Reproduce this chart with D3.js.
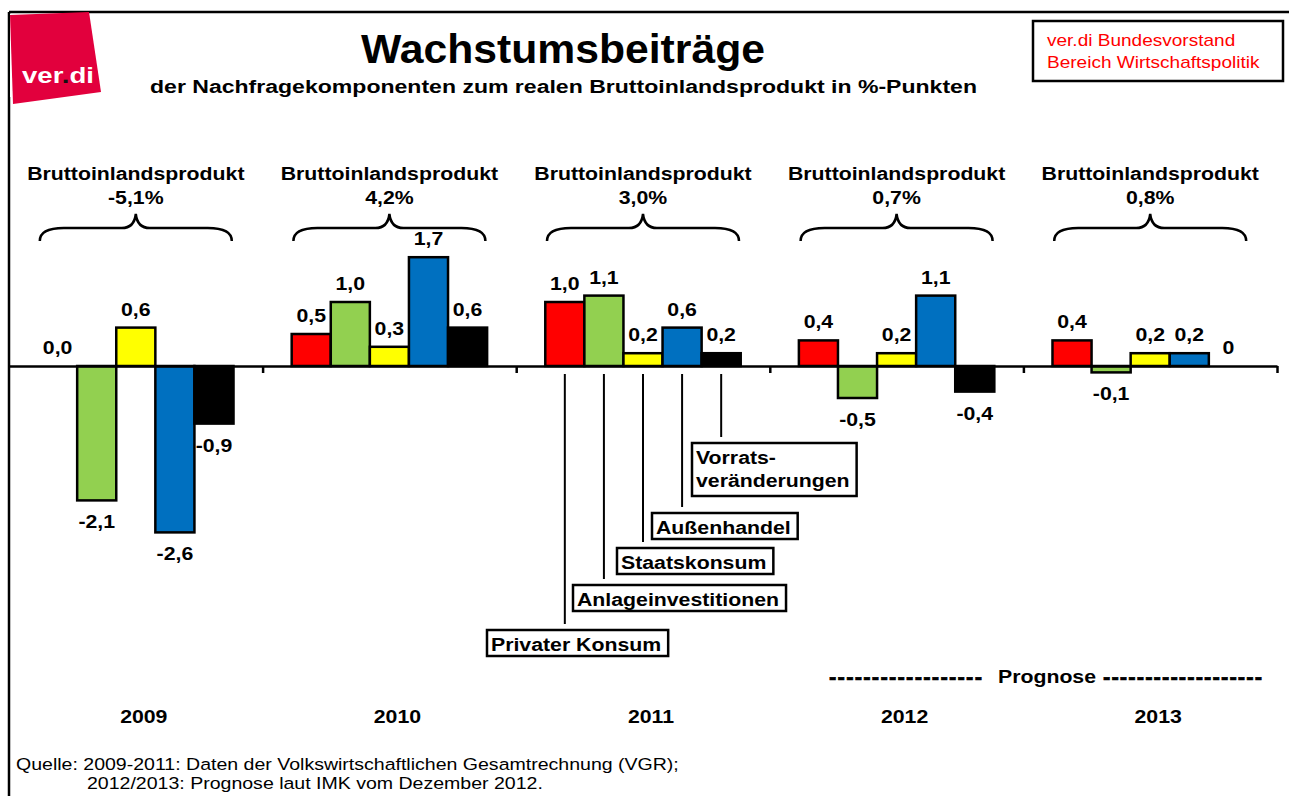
<!DOCTYPE html>
<html lang="de">
<head>
<meta charset="utf-8">
<title>Wachstumsbeiträge</title>
<script src="https://cdn.jsdelivr.net/npm/d3@7"></script>
<style>
  body { margin: 0; background: #fff; }
  svg { display: block; font-family: Arial, "Liberation Sans", sans-serif; }
</style>
</head>
<body>
<div id="chart"></div>
<script>
// categories
const years = ['2009', '2010', '2011', '2012', '2013'];
const components = ['Privater Konsum', 'Anlageinvestitionen', 'Staatskonsum', 'Außenhandel', 'Vorratsveränderungen'];

// growth contributions in %-points, as printed next to each bar
const privaterKonsum = ['0,0', '0,5', '1,0', '0,4', '0,4'];
const anlageinvestitionen = ['-2,1', '1,0', '1,1', '-0,5', '-0,1'];
const staatskonsum = ['0,6', '0,3', '0,2', '0,2', '0,2'];
const aussenhandel = ['-2,6', '1,7', '0,6', '1,1', '0,2'];
const vorratsveraenderungen = ['-0,9', '0,6', '0,2', '-0,4', '0'];

// real GDP growth per year
const bipGrowth = ['-5,1%', '4,2%', '3,0%', '0,7%', '0,8%'];

// callout texts (one line per entry)
const calloutText = [['Privater Konsum'], ['Anlageinvestitionen'], ['Staatskonsum'], ['Außenhandel'], ['Vorrats-', 'veränderungen']];
const calloutYear = '2011';

const sourceLines = [
  'Quelle: 2009-2011: Daten der Volkswirtschaftlichen Gesamtrechnung (VGR);',
  '2012/2013: Prognose laut IMK vom Dezember 2012.'
];

class GrowthChart {

  constructor(_config) {
    this.config = {
      parentElement: _config.parentElement,
      containerWidth: 1289,
      containerHeight: 796,
      plotLeft: 9,
      plotRight: 1277,
      zeroY: 366,
      pxPerPoint: 64,
      stretch: 1.12,
      barColors: ['#ff0000', '#92d050', '#ffff00', '#0070c0', '#000000'],
      // callout box corners (left, top) in pixels
      calloutBoxes: [[487, 630], [573, 585], [617, 548], [652, 513], [692, 443]]
    };
    this.initVis();
  }

  initVis() {
    let vis = this;
    const c = vis.config;

    vis.svg = d3.select(c.parentElement).append('svg')
        .attr('width', c.containerWidth)
        .attr('height', c.containerHeight);

    // scales
    vis.x0 = d3.scaleBand()
        .domain(years)
        .range([c.plotLeft, c.plotRight]);

    vis.x1 = d3.scaleBand()
        .domain(components)
        .range([0, vis.x0.bandwidth()])
        .paddingInner(0)
        .paddingOuter(0.744);

    vis.y = d3.scaleLinear()
        .domain([-3, 2.5])
        .range([c.zeroY + 3 * c.pxPerPoint, c.zeroY - 2.5 * c.pxPerPoint]);

    vis.color = d3.scaleOrdinal()
        .domain(components)
        .range(c.barColors);

    // tick positions sit at the boundaries between the years
    vis.xEdge = d3.scaleLinear()
        .domain([0, years.length])
        .range([c.plotLeft, c.plotRight]);

    vis.place = (x, y, s = c.stretch) => `translate(${x},${y}) scale(${s},1)`;

    const series = [privaterKonsum, anlageinvestitionen, staatskonsum, aussenhandel, vorratsveraenderungen];
    vis.data = years.map((year, i) => ({
      year: year,
      bip: bipGrowth[i],
      bars: series.map((s, j) => ({
        year: year,
        component: components[j],
        label: s[i],
        value: +s[i].replace(',', '.')
      }))
    }));

    vis.renderVis();
  }

  renderVis() {
    let vis = this;
    const c = vis.config;
    const bw = vis.x0.bandwidth();

    // frame
    vis.svg.append('line')
        .attr('x1', c.plotLeft).attr('x2', c.containerWidth)
        .attr('y1', 12).attr('y2', 12)
        .attr('stroke', '#000').attr('stroke-width', 2.5);
    vis.svg.append('line')
        .attr('x1', c.plotLeft).attr('x2', c.plotLeft)
        .attr('y1', 12).attr('y2', c.containerHeight)
        .attr('stroke', '#000').attr('stroke-width', 2.5);

    // ver.di logo
    const logo = vis.svg.append('g');
    logo.append('rect')
        .attr('x', 10).attr('y', 14).attr('width', 94).attr('height', 83)
        .attr('fill', '#fff');
    logo.append('polygon')
        .attr('points', '10,15 89,12 101,92 13,104')
        .attr('fill', '#e2003d');
    const logoText = logo.append('text')
        .attr('x', 22).attr('y', 83)
        .attr('font-size', 22).attr('font-weight', 'bold')
        .attr('fill', '#fff')
        .attr('textLength', 72).attr('lengthAdjust', 'spacingAndGlyphs');
    logoText.append('tspan').text('ver');
    logoText.append('tspan').attr('fill', '#111').text('.');
    logoText.append('tspan').text('di');

    // title
    vis.svg.append('text')
        .attr('x', 361).attr('y', 63)
        .attr('font-size', 40).attr('font-weight', 'bold')
        .attr('textLength', 404).attr('lengthAdjust', 'spacingAndGlyphs')
        .text('Wachstumsbeiträge');
    vis.svg.append('text')
        .attr('x', 150).attr('y', 93)
        .attr('font-size', 18).attr('font-weight', 'bold')
        .attr('textLength', 827).attr('lengthAdjust', 'spacingAndGlyphs')
        .text('der Nachfragekomponenten zum realen Bruttoinlandsprodukt in %-Punkten');

    // publisher box
    vis.svg.append('rect')
        .attr('x', 1033).attr('y', 21).attr('width', 250).attr('height', 60)
        .attr('fill', '#fff').attr('stroke', '#000').attr('stroke-width', 2.5);
    vis.svg.selectAll('.publisher')
      .data(['ver.di Bundesvorstand', 'Bereich Wirtschaftspolitik'])
      .join('text')
        .attr('class', 'publisher')
        .attr('transform', (d, i) => vis.place(1047, 46 + i * 22))
        .attr('font-size', 17)
        .attr('fill', '#ff0000')
        .text(d => d);

    // year groups
    const yearGroup = vis.svg.selectAll('.year-group')
      .data(vis.data)
      .join('g')
        .attr('class', 'year-group')
        .attr('transform', d => `translate(${vis.x0(d.year)},0)`);

    // GDP header + brace
    yearGroup.append('text')
        .attr('transform', vis.place(bw / 2, 180))
        .attr('text-anchor', 'middle')
        .attr('font-size', 19).attr('font-weight', 'bold')
        .text('Bruttoinlandsprodukt');
    yearGroup.append('text')
        .attr('transform', vis.place(bw / 2, 204))
        .attr('text-anchor', 'middle')
        .attr('font-size', 19).attr('font-weight', 'bold')
        .text(d => d.bip);

    const braceHalf = 96;
    yearGroup.append('path')
        .attr('d', () => {
          const x0 = bw / 2 - braceHalf, x1 = bw / 2 + braceHalf, xm = bw / 2;
          const yt = 214, ym = 228, ye = 241;
          return `M${x0},${ye} C${x0},${ym + 4} ${x0 + 8},${ym} ${x0 + 24},${ym}`
            + ` L${xm - 14},${ym} C${xm - 6},${ym} ${xm - 1},${ym - 5} ${xm},${yt}`
            + ` C${xm + 1},${ym - 5} ${xm + 6},${ym} ${xm + 14},${ym}`
            + ` L${x1 - 24},${ym} C${x1 - 8},${ym} ${x1},${ym + 4} ${x1},${ye}`;
        })
        .attr('fill', 'none')
        .attr('stroke', '#000')
        .attr('stroke-width', 2.5);

    // bars (zero values are not drawn)
    yearGroup.selectAll('.bar')
      .data(d => d.bars.filter(b => b.value !== 0))
      .join('rect')
        .attr('class', 'bar')
        .attr('x', d => vis.x1(d.component))
        .attr('width', vis.x1.bandwidth())
        .attr('y', d => vis.y(Math.max(0, d.value)))
        .attr('height', d => Math.abs(vis.y(d.value) - vis.y(0)))
        .attr('fill', d => vis.color(d.component))
        .attr('stroke', '#000')
        .attr('stroke-width', 2.5);

    // value labels
    yearGroup.selectAll('.value')
      .data(d => d.bars)
      .join('text')
        .attr('class', 'value')
        .attr('text-anchor', 'middle')
        .attr('font-size', 19).attr('font-weight', 'bold')
        .attr('transform', d => {
          const cx = vis.x1(d.component) + vis.x1.bandwidth() / 2;
          const ty = d.value < 0 ? vis.y(d.value) + 28 : vis.y(d.value) - 12;
          return vis.place(cx, ty);
        })
        .text(d => d.label);

    // x axis with ticks between the years
    const xAxis = d3.axisBottom(vis.xEdge)
        .tickValues(d3.range(1, years.length + 1))
        .tickSize(7)
        .tickSizeOuter(0)
        .tickFormat('');
    vis.svg.append('g')
        .attr('class', 'axis x-axis')
        .attr('transform', `translate(0,${vis.y(0)})`)
        .call(xAxis)
        .call(g => g.selectAll('path, line').attr('stroke', '#000').attr('stroke-width', 2.5));

    // callouts for 2011
    const callouts = components.map((comp, i) => ({
      component: comp,
      lines: calloutText[i],
      box: c.calloutBoxes[i]
    }));

    const callout = vis.svg.selectAll('.callout')
      .data(callouts)
      .join('g')
        .attr('class', 'callout');

    callout.append('line')
        .attr('x1', d => vis.x0(calloutYear) + vis.x1(d.component) + vis.x1.bandwidth() / 2)
        .attr('x2', d => vis.x0(calloutYear) + vis.x1(d.component) + vis.x1.bandwidth() / 2)
        .attr('y1', vis.y(0) + 8)
        .attr('y2', d => d.box[1] - 6)
        .attr('stroke', '#000')
        .attr('stroke-width', 2);

    callout.append('rect')
        .attr('x', d => d.box[0])
        .attr('y', d => d.box[1])
        .attr('height', d => 26 + 27 * (d.lines.length - 1))
        .attr('fill', '#fff')
        .attr('stroke', '#000')
        .attr('stroke-width', 2.5);

    callout.each(function(d) {
      const g = d3.select(this);
      let maxW = 0;
      d.lines.forEach((line, k) => {
        const t = g.append('text')
            .attr('transform', vis.place(d.box[0] + 4, d.box[1] + 21 + k * 23))
            .attr('font-size', 19).attr('font-weight', 'bold')
            .text(line);
        maxW = Math.max(maxW, t.node().getComputedTextLength() * c.stretch);
      });
      g.select('rect').attr('width', maxW + 11);
    });

    // forecast marker
    const prog = vis.svg.append('g')
        .attr('font-weight', 'bold');
    prog.append('text')
        .attr('x', 829).attr('y', 684)
        .attr('font-size', 22)
        .attr('stroke', '#000').attr('stroke-width', 0.7)
        .attr('textLength', 153).attr('lengthAdjust', 'spacing')
        .text('------------------');
    prog.append('text')
        .attr('transform', vis.place(1047, 683))
        .attr('text-anchor', 'middle')
        .attr('font-size', 19)
        .text('Prognose');
    prog.append('text')
        .attr('x', 1103).attr('y', 684)
        .attr('font-size', 22)
        .attr('stroke', '#000').attr('stroke-width', 0.7)
        .attr('textLength', 159).attr('lengthAdjust', 'spacing')
        .text('-------------------');

    // year labels
    const yearAxis = d3.axisBottom(vis.x0).tickSize(0).tickPadding(0);
    vis.svg.append('g')
        .attr('class', 'axis year-axis')
        .attr('transform', 'translate(8,723)')
        .call(yearAxis)
        .call(g => g.select('.domain').remove())
        .call(g => g.selectAll('text')
            .attr('y', 0).attr('dy', null)
            .attr('transform', `scale(${c.stretch},1)`)
            .attr('fill', '#000')
            .attr('font-size', 19)
            .attr('font-weight', 'bold')
            .attr('font-family', 'Arial, "Liberation Sans", sans-serif'));

    // source
    vis.svg.selectAll('.source')
      .data(sourceLines)
      .join('text')
        .attr('class', 'source')
        .attr('font-size', 17)
        .attr('transform', (d, i) => vis.place(i === 0 ? 16 : 87, i === 0 ? 770 : 789, 1.15))
        .text(d => d);
  }
}

new GrowthChart({ parentElement: '#chart' });
</script>
</body>
</html>
